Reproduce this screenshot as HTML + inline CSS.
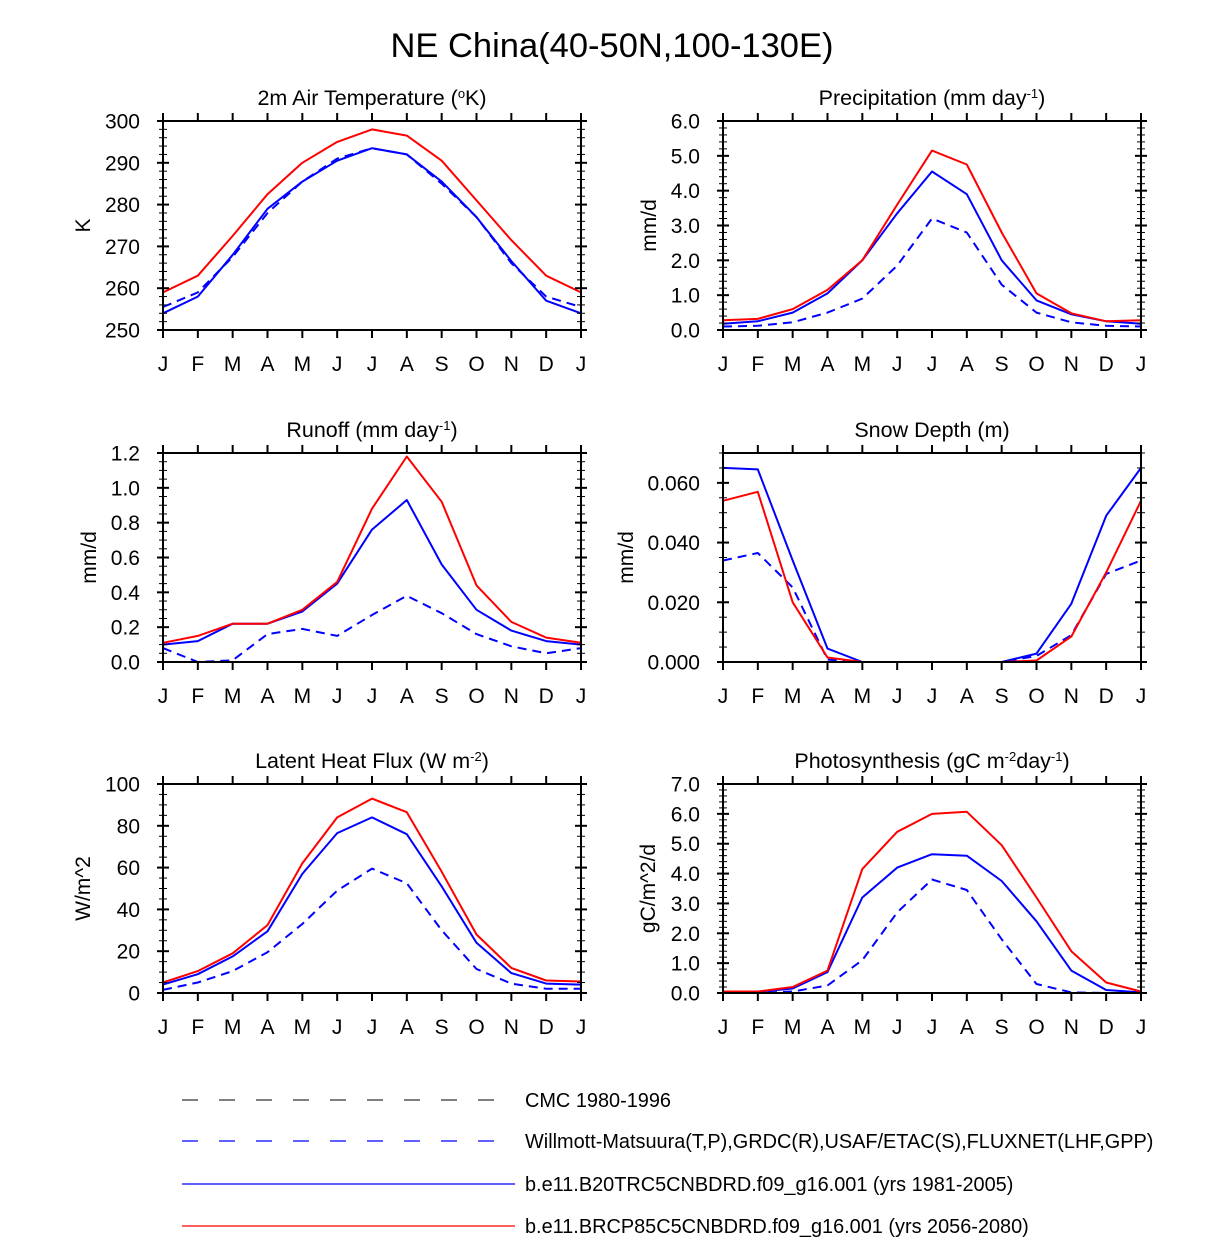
<!DOCTYPE html>
<html><head><meta charset="utf-8"><style>
body{margin:0;background:#fff;}
svg{display:block;font-family:"Liberation Sans",sans-serif;}
</style></head><body>
<svg id="fig" width="1224" height="1258" viewBox="0 0 1224 1258">
<text x="612" y="57" text-anchor="middle" font-size="34.5">NE China(40-50N,100-130E)</text>
<g>
<line x1="182" y1="1100" x2="500" y2="1100" stroke="#333" stroke-width="1.2" stroke-dasharray="16,21"/>
<text x="525" y="1107" font-size="19.9">CMC 1980-1996</text>
<line x1="182" y1="1141" x2="500" y2="1141" stroke="#00f" stroke-width="1.2" stroke-dasharray="16,21"/>
<text x="525" y="1148" font-size="19.9">Willmott-Matsuura(T,P),GRDC(R),USAF/ETAC(S),FLUXNET(LHF,GPP)</text>
<line x1="182" y1="1184" x2="515" y2="1184" stroke="#00f" stroke-width="1.2"/>
<text x="525" y="1191" font-size="19.9">b.e11.B20TRC5CNBDRD.f09_g16.001 (yrs 1981-2005)</text>
<line x1="182" y1="1226" x2="515" y2="1226" stroke="#f00" stroke-width="1.2"/>
<text x="525" y="1233" font-size="19.9">b.e11.BRCP85C5CNBDRD.f09_g16.001 (yrs 2056-2080)</text>
</g>
</svg>
<script>
const months=["J","F","M","A","M","J","J","A","S","O","N","D","J"];
const tempRed=[259,263,272.5,282.5,290,295,298,296.5,290.5,281,271.5,263,259];
const tempBlue=[254,258,268,279,285.5,290.5,293.5,292,285.5,277,266.5,257,254];
const tempObs=[255.5,259,267.5,278,285.5,291,293.5,292,285,277,266,258,255.5];
const precRed=[0.28,0.32,0.6,1.15,2.0,3.6,5.15,4.75,2.8,1.05,0.48,0.25,0.28];
const precBlue=[0.18,0.25,0.5,1.05,2.0,3.35,4.55,3.9,2.0,0.85,0.45,0.25,0.18];
const precObs=[0.1,0.12,0.22,0.5,0.9,1.85,3.2,2.8,1.3,0.5,0.22,0.12,0.1];
const runRed=[0.11,0.15,0.22,0.22,0.30,0.46,0.88,1.18,0.92,0.44,0.23,0.14,0.11];
const runBlue=[0.1,0.12,0.22,0.22,0.29,0.45,0.76,0.93,0.56,0.3,0.18,0.12,0.1];
const runObs=[0.08,0.0,0.01,0.16,0.19,0.15,0.27,0.38,0.28,0.16,0.09,0.05,0.08];
const snowRed=[0.054,0.057,0.020,0.0015,0,0,0,0,0,0.0005,0.0085,0.03,0.054];
const snowBlue=[0.065,0.0645,0.034,0.0045,0,0,0,0,0,0.0028,0.0195,0.049,0.065];
const snowObs=[0.034,0.0365,0.025,0.0008,0,0,0,0,0,0.002,0.009,0.0295,0.034];
const snowCmc=[0,0,0,0,0,0,0,0,0,0,0,0,0];
const lhfRed=[5,10.5,19,32.5,62,84,93,86.5,58,28,12,6,5.5];
const lhfBlue=[4,9,17.5,29.5,57,76.5,84,76,51,24,9.5,4.5,4];
const lhfObs=[1.5,5,10.5,19.5,33,49,59.5,52.5,30,11.5,4.5,2,2];
const gppRed=[0.05,0.05,0.2,0.75,4.15,5.4,6.0,6.07,4.95,3.2,1.4,0.35,0.05];
const gppBlue=[0.03,0.04,0.15,0.7,3.2,4.2,4.65,4.6,3.75,2.4,0.75,0.1,0.02];
const gppObs=[0,0,0.05,0.25,1.1,2.7,3.8,3.45,1.8,0.3,0.02,0,0];

const NS="http://www.w3.org/2000/svg";
const svg=document.getElementById('fig');
function mk(tag,attrs,parent){const e=document.createElementNS(NS,tag);for(const k in attrs)e.setAttribute(k,attrs[k]);(parent||svg).appendChild(e);return e;}

const panels=[
 {name:"temperature",x0:163,y0:121,ylx:73,title:'2m Air Temperature (<tspan baseline-shift="super" font-size="13">o</tspan>K)',ylab:"K",min:250,max:300,major:10,minor:2,dec:0,series:[[tempObs,"#00f",true],[tempBlue,"#00f",false],[tempRed,"#f00",false]]},
 {name:"precipitation",x0:723,y0:121,ylx:67,title:'Precipitation (mm day<tspan baseline-shift="super" font-size="13">-1</tspan>)',ylab:"mm/d",min:0,max:6,major:1,minor:0.2,dec:1,series:[[precObs,"#00f",true],[precBlue,"#00f",false],[precRed,"#f00",false]]},
 {name:"runoff",x0:163,y0:453,ylx:67,title:'Runoff (mm day<tspan baseline-shift="super" font-size="13">-1</tspan>)',ylab:"mm/d",min:0,max:1.2,major:0.2,minor:0.05,dec:1,series:[[runObs,"#00f",true],[runBlue,"#00f",false],[runRed,"#f00",false]]},
 {name:"snow-depth",x0:723,y0:453,ylx:90,title:'Snow Depth (m)',ylab:"mm/d",min:0,max:0.07,major:0.02,minor:0.005,dec:3,series:[[snowCmc,"#333",true],[snowObs,"#00f",true],[snowBlue,"#00f",false],[snowRed,"#f00",false]]},
 {name:"latent-heat",x0:163,y0:784,ylx:73,title:'Latent Heat Flux (W m<tspan baseline-shift="super" font-size="13">-2</tspan>)',ylab:"W/m^2",min:0,max:100,major:20,minor:5,dec:0,series:[[lhfObs,"#00f",true],[lhfBlue,"#00f",false],[lhfRed,"#f00",false]]},
 {name:"photosynthesis",x0:723,y0:784,ylx:68,title:'Photosynthesis (gC m<tspan baseline-shift="super" font-size="13">-2</tspan>day<tspan baseline-shift="super" font-size="13">-1</tspan>)',ylab:"gC/m^2/d",min:0,max:7,major:1,minor:0.2,dec:1,series:[[gppObs,"#00f",true],[gppBlue,"#00f",false],[gppRed,"#f00",false]]}
];
const W=418,H=209;
panels.forEach(p=>{
 const g=mk('g',{});
 
 
 const xs=i=>p.x0+i*W/12;
 const ys=v=>p.y0+H-(v-p.min)/(p.max-p.min)*H;
 const t=mk('text',{x:p.x0+W/2,y:p.y0-16,'text-anchor':'middle','font-size':'21.5'},g);
 t.innerHTML=p.title;
 
 
 const yl=mk('text',{transform:`translate(${p.x0-p.ylx},${p.y0+H/2}) rotate(-90)`,'text-anchor':'middle','font-size':'21'},g);
 yl.textContent=p.ylab;
 
 
 p.series.forEach((s,si)=>{
  const pts=s[0].map((v,i)=>xs(i).toFixed(1)+','+ys(v).toFixed(1)).join(' ');
  const pl=mk('polyline',{points:pts,fill:'none',stroke:s[1],'stroke-width':'2','stroke-dasharray':s[2]?'9,6':'none','stroke-linejoin':'round'},g);
  
  
 });
 const fr=mk('rect',{x:p.x0,y:p.y0,width:W,height:H,fill:'none',stroke:'#000','stroke-width':'2'},g);
 
 
 for(let i=0;i<13;i++){
  const x=xs(i);
  mk('line',{x1:x,x2:x,y1:p.y0+H,y2:p.y0+H+8,stroke:'#000','stroke-width':'2'},g);
  mk('line',{x1:x,x2:x,y1:p.y0,y2:p.y0-8,stroke:'#000','stroke-width':'2'},g);
  const lb=mk('text',{x:x,y:p.y0+H+41,'text-anchor':'middle','font-size':'21'},g);
  lb.textContent=months[i];
  
  
 }
 const nMin=Math.round((p.max-p.min)/p.minor);
 for(let k=0;k<=nMin;k++){
  const v=p.min+k*p.minor, y=ys(v);
  const isMaj=Math.abs(v/p.major-Math.round(v/p.major))<1e-6;
  const L=isMaj?6:4;
  mk('line',{x1:p.x0-L,x2:p.x0+L,y1:y,y2:y,stroke:'#000','stroke-width':isMaj?2:1},g);
  mk('line',{x1:p.x0+W-L,x2:p.x0+W+L,y1:y,y2:y,stroke:'#000','stroke-width':isMaj?2:1},g);
  if(isMaj){
   const lb=mk('text',{x:p.x0-23,y:y+7.5,'text-anchor':'end','font-size':'21'},g);
   lb.textContent=v.toFixed(p.dec);
   
   
  }
 }
});
</script>
</body></html>
